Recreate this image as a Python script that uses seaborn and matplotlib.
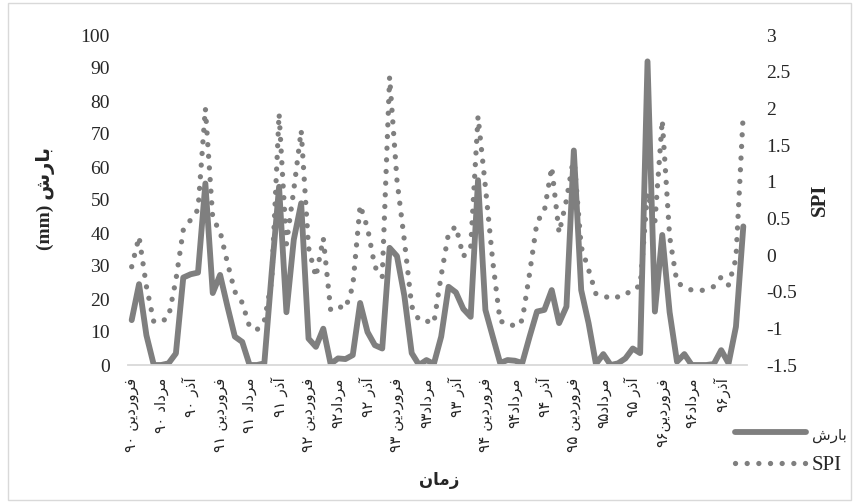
import re
import numpy as np
import pandas as pd
import matplotlib
matplotlib.use("Agg")
import matplotlib.pyplot as plt
from matplotlib.font_manager import FontProperties
import seaborn as sns

# monthly values, farvardin 90 .. esfand 96 (84 months)
precip = [13.6, 24.5, 9, 0, 0, 0.5, 3.5, 26.5, 27.5, 28, 55, 21.8,
          27.3, 17.7, 8.6, 7, 0, 0, 0.5, 28, 54, 16, 38, 49,
          8, 5.5, 11, 0.3, 2, 1.8, 3, 18.8, 10, 6, 5, 35.5,
          33, 21, 3.6, 0, 1.5, 0.3, 8.6, 23.7, 22, 17, 14.6, 56,
          16.7, 8.6, 0.6, 1.5, 1.3, 0.6, 8.6, 16.2, 16.7, 22.7, 12.7, 17.7,
          65, 22.7, 12.7, 0.3, 3.3, 0, 0.5, 2, 5, 3.6, 92, 16.2,
          39.4, 16, 1, 3.3, 0, 0, 0, 0.3, 4.5, 0.5, 11.6, 42]

spi = [-0.16, 0.25, -0.43, -0.91, -0.91, -0.85, -0.34, 0.34, 0.48, 0.62, 2.0, 0.5,
       0.32, -0.11, -0.5, -0.65, -0.98, -1.02, -0.9, -0.35, 1.93, 0.15, 0.89, 1.7,
       0.1, -0.3, 0.23, -0.75, -0.7, -0.73, -0.43, 0.68, 0.37, -0.16, -0.3, 2.43,
       1.02, 0.2, -0.7, -0.89, -0.9, -0.93, -0.28, 0.3, 0.39, -0.02, 0.1, 1.89,
       0.93, -0.09, -0.91, -0.91, -0.98, -0.89, -0.25, 0.45, 0.6, 1.2, 0.3, 0.75,
       1.35, 0.11, -0.2, -0.53, -0.55, -0.6, -0.57, -0.55, -0.45, -0.43, 0.85, 0.45,
       1.84, 0.25, -0.38, -0.43, -0.48, -0.49, -0.47, -0.43, -0.3, -0.41, -0.05, 1.95]

tick_labels = ["فروردین ۹۰", "مرداد ۹۰", "آذر ۹۰",
               "فروردین ۹۱", "مرداد ۹۱", "آذر ۹۱",
               "فروردین ۹۲", "مرداد۹۲", "آذر ۹۲",
               "فروردین ۹۳", "مرداد۹۳", "آذر ۹۳",
               "فروردین ۹۴", "مرداد۹۴", "آذر ۹۴",
               "فروردین ۹۵", "مرداد۹۵", "آذر ۹۵",
               "فروردین۹۶", "مرداد۹۶", "آذر۹۶"]

left_ticks = [0, 10, 20, 30, 40, 50, 60, 70, 80, 90, 100]
right_ticks = [-1.5, -1, -0.5, 0, 0.5, 1, 1.5, 2, 2.5, 3]

# persian text: matplotlib has no shaping, so use presentation forms + visual order
FORMS = {
    'ا': ('\uFE8D', '\uFE8E', None, None),
    'آ': ('\uFE81', '\uFE82', None, None),
    'ب': ('\uFE8F', '\uFE90', '\uFE91', '\uFE92'),
    'د': ('\uFEA9', '\uFEAA', None, None),
    'ذ': ('\uFEAB', '\uFEAC', None, None),
    'ر': ('\uFEAD', '\uFEAE', None, None),
    'ز': ('\uFEAF', '\uFEB0', None, None),
    'ش': ('\uFEB5', '\uFEB6', '\uFEB7', '\uFEB8'),
    'ف': ('\uFED1', '\uFED2', '\uFED3', '\uFED4'),
    'م': ('\uFEE1', '\uFEE2', '\uFEE3', '\uFEE4'),
    'ن': ('\uFEE5', '\uFEE6', '\uFEE7', '\uFEE8'),
    'و': ('\uFEED', '\uFEEE', None, None),
    'ی': ('\uFBFC', '\uFBFD', '\uFEF3', '\uFEF4'),
}


def shape_word(w):
    out = []
    for k, c in enumerate(w):
        if c not in FORMS:
            out.append(c)
            continue
        prev = w[k - 1] if k > 0 else None
        nxt = w[k + 1] if k + 1 < len(w) else None
        jp = prev in FORMS and FORMS[prev][2] is not None
        jn = nxt in FORMS and FORMS[c][2] is not None
        f = FORMS[c]
        if jp and jn:
            out.append(f[3])
        elif jp:
            out.append(f[1])
        elif jn:
            out.append(f[2])
        else:
            out.append(f[0])
    return ''.join(out)


def fa(s):
    toks = re.findall(r'[\u0622-\u06CC]+|\s+|[^\s\u0622-\u06CC]+', s)
    vis = []
    for t in reversed(toks):
        if re.match(r'[\u0622-\u06CC]', t):
            vis.append(shape_word(t)[::-1])
        else:
            vis.append(t)
    return ''.join(vis)


df = pd.DataFrame({"month": np.arange(len(precip)), "precip": precip, "spi": spi})

sns.set_theme(style="white")
plt.rcParams["font.family"] = ["Liberation Serif", "DejaVu Sans"]
plt.rcParams["axes.unicode_minus"] = False

GRAY = "#7F7F7F"
W, H = 855, 503

fig = plt.figure(figsize=(W / 100, H / 100), dpi=100)
ax = fig.add_axes([128 / W, 1 - 365 / H, 619 / W, 330 / H])
ax2 = ax.twinx()

sns.lineplot(data=df, x="month", y="precip", ax=ax, color=GRAY)
sns.lineplot(data=df, x="month", y="spi", ax=ax2, color=GRAY)
l1 = ax.lines[0]
l2 = ax2.lines[0]
l1.set_linewidth(4.2)
l1.set_solid_joinstyle("round")
l1.set_solid_capstyle("round")
l2.set_linewidth(3.8)
l2.set_linestyle((0, (0.01, 2.2)))
l2.set_dash_capstyle("round")

ax.set_xlim(-0.5, len(precip) - 0.5)
ax.set_ylim(0, 100)
ax2.set_ylim(-1.5, 3)

ax.set_yticks(left_ticks)
ax.set_yticklabels([f"{v:g}" for v in left_ticks], fontsize=14)
ax2.set_yticks(right_ticks)
ax2.set_yticklabels([f"{v:g}" for v in right_ticks], fontsize=14)
ax.tick_params(axis="y", length=0, pad=13)
ax2.tick_params(axis="y", length=0, pad=14)

ax.set_xticks(np.arange(0, len(precip), 4))
ax.set_xticklabels([fa(t) for t in tick_labels], rotation=90, fontsize=11,
                   family="DejaVu Sans")
ax.tick_params(axis="x", length=0, pad=9)

for a in (ax, ax2):
    for s in a.spines.values():
        s.set_visible(False)
ax.spines["bottom"].set_visible(True)
ax.spines["bottom"].set_color("#D9D9D9")
ax.spines["bottom"].set_linewidth(1.3)
ax.grid(False)
ax2.grid(False)

ax.set_xlabel(fa("زمان"), fontsize=12, fontweight="bold", family="DejaVu Sans")
ax.xaxis.set_label_coords(0.502, -0.348)
ax.xaxis.label.set_va("center")

ax.set_ylabel(fa("بارش (mm)"), fontsize=14, fontweight="bold")
ax.yaxis.set_label_coords(-0.1325, 0.506)
ax.yaxis.label.set_va("center")
ax.yaxis.label.set_ha("center")

ax2.set_ylabel("SPI", fontsize=15, fontweight="bold", rotation=90)
ax2.yaxis.set_label_coords(1.118, 0.5)
ax2.yaxis.label.set_va("center")
ax2.yaxis.label.set_ha("center")

leg = fig.legend([l1, l2], [fa("بارش"), "SPI"], loc="upper left",
                 bbox_to_anchor=(735 / W, 1 - 425 / H), frameon=False,
                 prop=FontProperties(family=["Liberation Serif", "DejaVu Sans"], size=15),
                 handlelength=3.4, handletextpad=0.3, labelspacing=0.6, borderpad=0,
                 borderaxespad=0)
leg.get_texts()[0].set_fontsize(11)

fig.add_artist(plt.Rectangle((8 / W, 3 / H), 843 / W, 497 / H, transform=fig.transFigure,
                             fill=False, ec="#D9D9D9", lw=1))

fig.savefig("out.png", dpi=100)
